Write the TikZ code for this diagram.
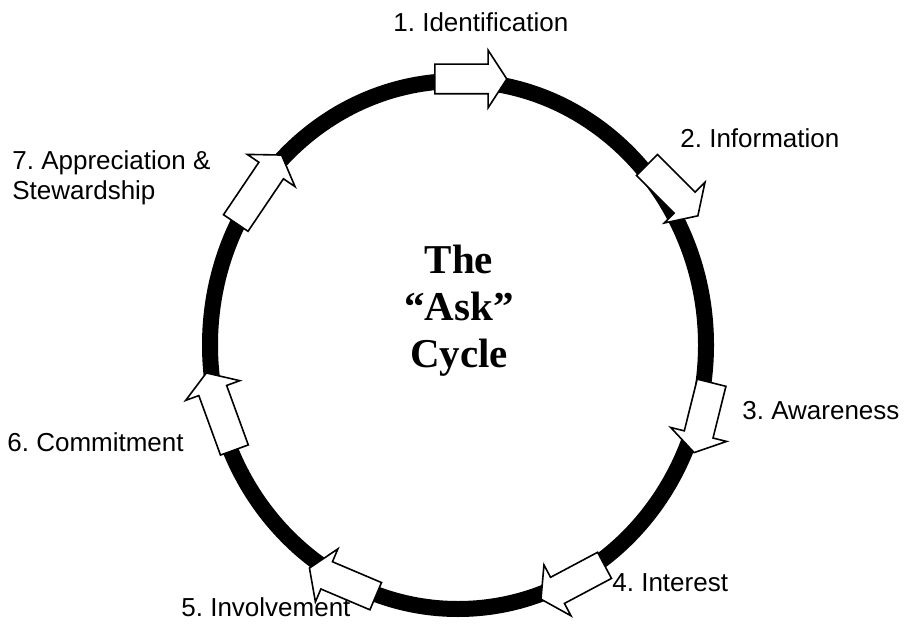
\documentclass[tikz,border=0pt]{standalone}
\usepackage{fontspec}
\setmainfont{Liberation Sans}
\newfontfamily\titlefont{Liberation Serif}
\usetikzlibrary{shapes.arrows}
\frenchspacing

\begin{document}
\begin{tikzpicture}[x=0.5pt,y=0.5pt,
  blockarrow/.style={single arrow, draw=black, fill=white, line width=0.8pt,
    inner sep=0pt, text height=14pt, text depth=0pt, minimum height=36pt,
    single arrow head extend=7pt, single arrow tip angle=114},
  longarrow/.style={blockarrow, minimum height=41pt},
  steplabel/.style={anchor=west, inner sep=0pt, font=\fontsize{13}{15}\selectfont}]
\useasboundingbox (0,0) rectangle (904,627);

% ring
\draw[line width=8pt] (458,282) ellipse (248 and 264);

% arrows on the ring
\node[blockarrow] (ident) at (466,548) {};
\node[blockarrow, rotate=-45] (info) at (669,440) {};
\node[blockarrow, rotate=-104] (aware) at (704,214) {};
\node[blockarrow, rotate=-152] (inter) at (577,47) {};
\node[blockarrow, rotate=157] (invol) at (347,43) {};
\node[longarrow, rotate=110] (commit) at (222,211) {};
\node[longarrow, rotate=56] (apprec) at (256,434) {};

% labels
\node[steplabel] (l1) at (393,605) {1. Identification};
\node[steplabel] (l2) at (680,489) {2. Information};
\node[steplabel] (l3) at (742,216) {3. Awareness};
\node[steplabel] (l4) at (612,44) {4. Interest};
\node[steplabel] (l5) at (181,20) {5. Involvement};
\node[steplabel] (l6) at (7,185) {6. Commitment};
\node[steplabel, align=left] (l7) at (12,449) {7. Appreciation \&\\Stewardship};

\node[font=\titlefont\bfseries\fontsize{20.5}{23.5}\selectfont, align=center] (title) at (459,316) {The\\“Ask”\\Cycle};
\end{tikzpicture}
\end{document}
